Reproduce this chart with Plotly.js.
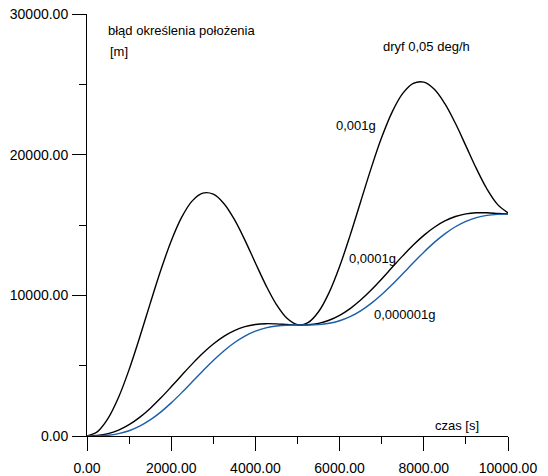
<!DOCTYPE html>
<html>
<head>
<meta charset="utf-8">
<script src="https://cdn.plot.ly/plotly-3.0.1.min.js"></script>
<style>html,body{margin:0;padding:0;background:#fff;}#chart{width:548px;height:476px;}</style>
</head>
<body>
<div id="chart"></div>
<script>
// time [s]
const czas = [0,250,500,750,1000,1250,1500,1750,2000,2250,2500,2750,3000,3250,3500,3750,4000,4250,4500,4750,5000,
  5250,5500,5750,6000,6250,6500,6750,7000,7250,7500,7750,8000,8250,8500,8750,9000,9250,9500,9750,10000];
// position error [m], accelerometer bias 0,001g
const blad_0001g = [0,313,1248,2752,4719,6999,9411,11762,13866,15558,16716,17264,17188,16533,15398,13929,12302,10710,9341,8365,7910,
  8057,8830,10191,12049,14262,16658,19044,21230,23046,24354,25068,25156,24647,23626,22229,20626,19005,17560,16466,15862];
// 0,0001g
const blad_00001g = [0,37,169,420,804,1322,1960,2696,3495,4320,5128,5880,6541,7085,7497,7776,7931,7985,7970,7925,7890,
  7907,8011,8229,8578,9060,9668,10381,11167,11990,12806,13577,14265,14841,15289,15603,15789,15867,15867,15825,15784];
// 0,000001g
const blad_0000001g = [0,6,50,164,374,697,1141,1698,2355,3084,3854,4628,5370,6046,6628,7099,7450,7685,7819,7876,7888,
  7891,7921,8013,8196,8488,8900,9428,10060,10773,11536,12313,13067,13763,14372,14874,15256,15522,15680,15755,15775];

const xTicks = [0,2000,4000,6000,8000,10000];
const yTicks = [0,10000,20000,30000];

const FONT = '"Liberation Sans", Arial, sans-serif';

const traces = [
  {x: czas, y: blad_0001g, mode: 'lines', line: {color: '#000000', width: 1.4, shape: 'spline', smoothing: 1}, hoverinfo: 'none'},
  {x: czas, y: blad_00001g, mode: 'lines', line: {color: '#000000', width: 1.4, shape: 'spline', smoothing: 1}, hoverinfo: 'none'},
  {x: czas, y: blad_0000001g, mode: 'lines', line: {color: '#1a5daa', width: 1.4, shape: 'spline', smoothing: 1}, hoverinfo: 'none'}
];

function ann(text, x, y) {
  return {text: text, xref: 'paper', yref: 'paper', x: x, y: y, xanchor: 'left', yanchor: 'middle',
          showarrow: false, font: {family: FONT, size: 13, color: '#000'}};
}

const layout = {
  width: 548, height: 476,
  margin: {l: 87, r: 40, t: 14, b: 40},
  paper_bgcolor: '#ffffff', plot_bgcolor: '#ffffff',
  showlegend: false,
  font: {family: FONT, size: 14, color: '#000'},
  xaxis: {
    range: [0, 10000], tickmode: 'array', tickvals: xTicks, tickformat: '.2f',
    showgrid: false, zeroline: false, showline: true, linecolor: '#000', linewidth: 1,
    ticks: 'outside', ticklen: 14, tickwidth: 1, tickcolor: '#000', ticklabelstandoff: 5,
    minor: {dtick: 1000, tick0: 0, ticks: 'outside', ticklen: 7, tickwidth: 1, tickcolor: '#000', showgrid: false},
    tickfont: {family: FONT, size: 14, color: '#000'}, fixedrange: true
  },
  yaxis: {
    range: [0, 30000], tickmode: 'array', tickvals: yTicks, tickformat: '.2f',
    showgrid: false, zeroline: false, showline: true, linecolor: '#000', linewidth: 1,
    ticks: 'outside', ticklen: 14, tickwidth: 1, tickcolor: '#000', ticklabelstandoff: 1,
    minor: {dtick: 5000, tick0: 0, ticks: 'outside', ticklen: 7, tickwidth: 1, tickcolor: '#000', showgrid: false},
    tickfont: {family: FONT, size: 14, color: '#000'}, fixedrange: true
  },
  annotations: [
    ann('błąd określenia położenia', 0.046, 0.962),
    ann('[m]', 0.049, 0.910),
    ann('dryf 0,05 deg/h', 0.698, 0.924),
    ann('0,001g', 0.587, 0.735),
    ann('0,0001g', 0.618, 0.42),
    ann('0,000001g', 0.678, 0.289),
    ann('czas [s]', 0.823, 0.026)
  ]
};

Plotly.newPlot('chart', traces, layout, {displayModeBar: false, staticPlot: true});
</script>
</body>
</html>
